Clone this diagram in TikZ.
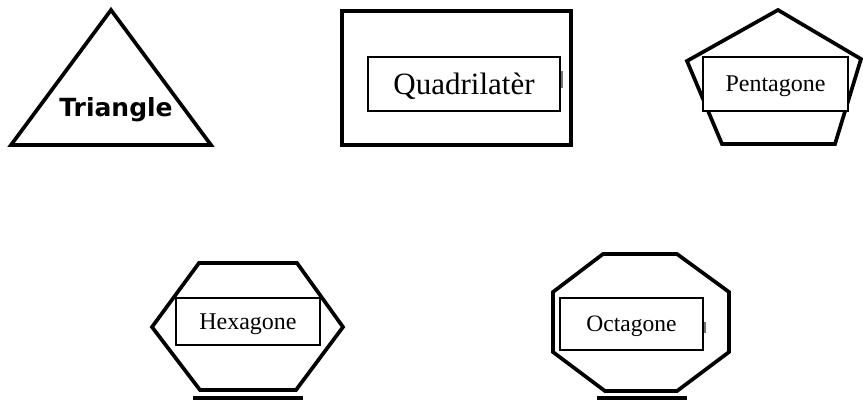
\documentclass[tikz,border=0pt]{standalone}
\usepackage{fontspec}
\setmainfont{Liberation Serif}
\newfontfamily\trifont{DejaVu Sans}
\tikzset{
  shapeline/.style={draw=black, line width=3.7pt, line join=miter},
  labelbox/.style={draw=black, line width=1.4pt, fill=white, inner sep=0pt, anchor=center, text depth=0pt},
  faint/.style={draw=black!55, line width=2.5pt}
}
\begin{document}
\begin{tikzpicture}[x=1pt,y=-1pt]
\useasboundingbox (0,0) rectangle (863,400);
% Triangle
\draw[shapeline] (111,10) -- (211,145) -- (11,145) -- cycle;
\node (tri) at (116,110) {\trifont\bfseries\fontsize{25}{25}\selectfont Triangle};
% Quadrilateral
\draw[shapeline] (342,11) rectangle (571,145);
\draw[faint] (562,71) -- (562,88);
\node[labelbox, minimum width=192pt, minimum height=54pt] (quad) at (464,84)
  {\fontsize{31}{31}\selectfont Quadrilatèr};
% Pentagon
\draw[shapeline] (778,10) -- (861,59) -- (835,144) -- (722,144) -- (687,61) -- cycle;
\node[labelbox, minimum width=145pt, minimum height=54pt] (pent) at (775.5,84)
  {\fontsize{24}{24}\selectfont Pentagone};
% Hexagon
\draw[shapeline] (199,263) -- (297,263) -- (343,327) -- (296,390) -- (200,390) -- (152,327) -- cycle;
\draw[draw=black, line width=4pt] (193,398) -- (303,398);
\node[labelbox, minimum width=144pt, minimum height=47pt] (hex) at (248,321.5)
  {\fontsize{24}{24}\selectfont Hexagone};
% Octagon
\draw[shapeline] (603,254) -- (677,254) -- (729,292) -- (729,352) -- (677,391) -- (605,391) -- (553,352) -- (553,292) -- cycle;
\draw[draw=black, line width=4pt] (597,398) -- (687,398);
\draw[faint, line width=1.5pt] (705,322) -- (705,333);
\node[labelbox, minimum width=143pt, minimum height=52pt] (oct) at (631.5,324)
  {\fontsize{23.5}{23.5}\selectfont Octagone};
\end{tikzpicture}
\end{document}
